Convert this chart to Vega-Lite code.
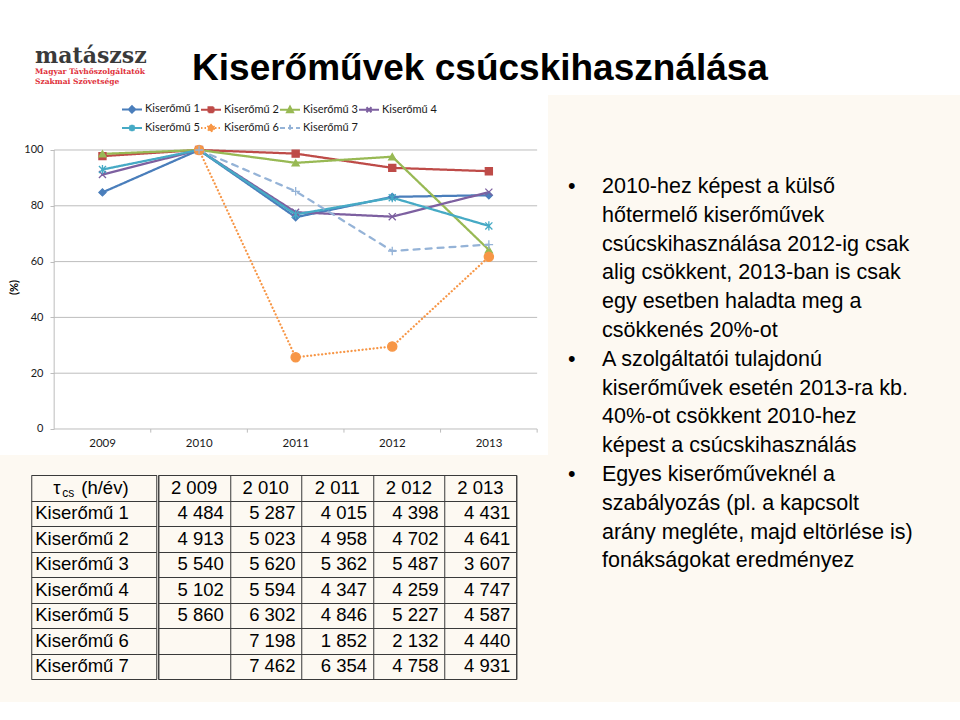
{
  "$schema": "https://vega.github.io/schema/vega-lite/v6.json",
  "background": "#FDF9F2",
  "padding": {"left": 0, "top": 0, "right": 0, "bottom": 22},
  "config": {
    "view": {"stroke": null},
    "concat": {"spacing": 0},
    "font": "Liberation Sans",
    "locale": {"number": {"decimal": ",", "thousands": " ", "grouping": [3], "currency": ["", ""]}}
  },
  "datasets": {
    "d": [
      {"unit": "Kiserőmű 1", "year": 2009, "h": 4484, "pct": 84.8},
      {"unit": "Kiserőmű 1", "year": 2010, "h": 5287, "pct": 100},
      {"unit": "Kiserőmű 1", "year": 2011, "h": 4015, "pct": 75.9},
      {"unit": "Kiserőmű 1", "year": 2012, "h": 4398, "pct": 83.2},
      {"unit": "Kiserőmű 1", "year": 2013, "h": 4431, "pct": 83.8},
      {"unit": "Kiserőmű 2", "year": 2009, "h": 4913, "pct": 97.8},
      {"unit": "Kiserőmű 2", "year": 2010, "h": 5023, "pct": 100},
      {"unit": "Kiserőmű 2", "year": 2011, "h": 4958, "pct": 98.7},
      {"unit": "Kiserőmű 2", "year": 2012, "h": 4702, "pct": 93.6},
      {"unit": "Kiserőmű 2", "year": 2013, "h": 4641, "pct": 92.4},
      {"unit": "Kiserőmű 3", "year": 2009, "h": 5540, "pct": 98.6},
      {"unit": "Kiserőmű 3", "year": 2010, "h": 5620, "pct": 100},
      {"unit": "Kiserőmű 3", "year": 2011, "h": 5362, "pct": 95.4},
      {"unit": "Kiserőmű 3", "year": 2012, "h": 5487, "pct": 97.6},
      {"unit": "Kiserőmű 3", "year": 2013, "h": 3607, "pct": 64.2},
      {"unit": "Kiserőmű 4", "year": 2009, "h": 5102, "pct": 91.2},
      {"unit": "Kiserőmű 4", "year": 2010, "h": 5594, "pct": 100},
      {"unit": "Kiserőmű 4", "year": 2011, "h": 4347, "pct": 77.7},
      {"unit": "Kiserőmű 4", "year": 2012, "h": 4259, "pct": 76.1},
      {"unit": "Kiserőmű 4", "year": 2013, "h": 4747, "pct": 84.9},
      {"unit": "Kiserőmű 5", "year": 2009, "h": 5860, "pct": 93.0},
      {"unit": "Kiserőmű 5", "year": 2010, "h": 6302, "pct": 100},
      {"unit": "Kiserőmű 5", "year": 2011, "h": 4846, "pct": 76.9},
      {"unit": "Kiserőmű 5", "year": 2012, "h": 5227, "pct": 82.9},
      {"unit": "Kiserőmű 5", "year": 2013, "h": 4587, "pct": 72.8},
      {"unit": "Kiserőmű 6", "year": 2010, "h": 7198, "pct": 100},
      {"unit": "Kiserőmű 6", "year": 2011, "h": 1852, "pct": 25.7},
      {"unit": "Kiserőmű 6", "year": 2012, "h": 2132, "pct": 29.6},
      {"unit": "Kiserőmű 6", "year": 2013, "h": 4440, "pct": 61.7},
      {"unit": "Kiserőmű 7", "year": 2010, "h": 7462, "pct": 100},
      {"unit": "Kiserőmű 7", "year": 2011, "h": 6354, "pct": 85.2},
      {"unit": "Kiserőmű 7", "year": 2012, "h": 4758, "pct": 63.8},
      {"unit": "Kiserőmű 7", "year": 2013, "h": 4931, "pct": 66.1}
    ],
    "years": [{"year": 2009}, {"year": 2010}, {"year": 2011}, {"year": 2012}, {"year": 2013}],
    "units": [{"unit": "Kiserőmű 1"}, {"unit": "Kiserőmű 2"}, {"unit": "Kiserőmű 3"}, {"unit": "Kiserőmű 4"}, {"unit": "Kiserőmű 5"}, {"unit": "Kiserőmű 6"}, {"unit": "Kiserőmű 7"}],
    "grid": [{"v": 0}, {"v": 20}, {"v": 40}, {"v": 60}, {"v": 80}, {"v": 100}],
    "lines": [
      {"i": 1, "b": "•", "t": "2010-hez képest a külső"},
      {"i": 2, "b": "", "t": "hőtermelő kiserőművek"},
      {"i": 3, "b": "", "t": "csúcskihasználása 2012-ig csak"},
      {"i": 4, "b": "", "t": "alig csökkent, 2013-ban is csak"},
      {"i": 5, "b": "", "t": "egy esetben haladta meg a"},
      {"i": 6, "b": "", "t": "csökkenés 20%-ot"},
      {"i": 7, "b": "•", "t": "A szolgáltatói tulajdonú"},
      {"i": 8, "b": "", "t": "kiserőművek esetén 2013-ra kb."},
      {"i": 9, "b": "", "t": "40%-ot csökkent 2010-hez"},
      {"i": 10, "b": "", "t": "képest a csúcskihasználás"},
      {"i": 11, "b": "•", "t": "Egyes kiserőműveknél a"},
      {"i": 12, "b": "", "t": "szabályozás (pl. a kapcsolt"},
      {"i": 13, "b": "", "t": "arány megléte, majd eltörlése is)"},
      {"i": 14, "b": "", "t": "fonákságokat eredményez"}
    ]
  },
  "vconcat": [
    {
      "hconcat": [
        {
          "width": 170, "height": 95,
          "view": {"fill": "white", "stroke": null},
          "data": {"values": []},
          "mark": "point",
          "title": {
            "text": "matászsz",
            "subtitle": ["Magyar Távhőszolgáltatók", "Szakmai Szövetsége"],
            "orient": "top", "anchor": "start", "offset": -86, "dx": 35,
            "font": "DejaVu Serif", "fontSize": 22, "fontWeight": "bold", "color": "#3A3A3A",
            "subtitleFont": "DejaVu Serif", "subtitleFontSize": 7.5, "subtitleFontWeight": "bold",
            "subtitleColor": "#E0313A", "subtitlePadding": 0, "subtitleLineHeight": 10
          }
        },
        {
          "width": 790, "height": 95,
          "view": {"fill": "white", "stroke": null},
          "data": {"values": []},
          "mark": "point",
          "title": {
            "text": "Kiserőművek csúcskihasználása",
            "orient": "top", "anchor": "middle", "offset": -88, "dx": -85,
            "font": "Liberation Sans", "fontSize": 37, "fontWeight": "bold", "color": "#000000"
          }
        }
      ]
    },
    {
      "hconcat": [
        {
          "spacing": 19,
          "center": true,
          "vconcat": [
            {
              "width": 548, "height": 360,
              "view": {"fill": "white", "stroke": null},
              "resolve": {"scale": {"shape": "independent", "fill": "independent", "stroke": "independent", "strokeDash": "independent"}},
              "layer": [
                {
                  "data": {"name": "grid"},
                  "mark": {"type": "rule", "color": "#BDBDBD", "strokeWidth": 1, "xOffset": -48.3, "x2Offset": 48.3},
                  "encoding": {
                    "x": {"datum": 2009, "type": "ordinal", "scale": {"type": "point", "padding": 0.8365, "align": 0.634}},
                    "x2": {"datum": 2013},
                    "y": {"field": "v", "type": "quantitative", "title": "(%)", "scale": {"domain": [-9.32, 119.71], "nice": false, "zero": false}}
                  }
                },
                {
                  "data": {"values": [{}]},
                  "mark": {"type": "rule", "color": "#BDBDBD", "strokeWidth": 1, "xOffset": -48.3},
                  "encoding": {
                    "x": {"datum": 2009, "type": "ordinal"},
                    "y": {"datum": 0, "type": "quantitative"},
                    "y2": {"datum": 100}
                  }
                },
                {
                  "data": {"name": "years"},
                  "mark": {"type": "rule", "color": "#BDBDBD", "strokeWidth": 1, "xOffset": 48.3},
                  "encoding": {
                    "x": {"field": "year", "type": "ordinal", "title": null},
                    "y": {"datum": 0, "type": "quantitative"},
                    "y2": {"datum": -1.3}
                  }
                },
                {
                  "data": {"name": "d"},
                  "mark": {"type": "line", "strokeWidth": 2.25, "strokeCap": "round", "strokeJoin": "round"},
                  "encoding": {
                    "x": {
                      "field": "year", "type": "ordinal", "title": null,
                      "scale": {"type": "point", "padding": 0.8365, "align": 0.634},
                      "axis": {"orient": "bottom", "offset": -26, "domain": false, "ticks": false, "grid": false, "labelAngle": 0, "labelPadding": 14, "labelOffset": 13, "labelFont": "Lato", "labelFontSize": 11.5, "labelColor": "#1A1A1A"}
                    },
                    "y": {
                      "field": "pct", "type": "quantitative", "title": "(%)",
                      "scale": {"domain": [-9.32, 119.71], "nice": false, "zero": false},
                      "axis": {"orient": "left", "offset": -54, "values": [0, 20, 40, 60, 80, 100], "domain": false, "grid": false, "ticks": true, "tickSize": 4, "tickColor": "#BDBDBD", "labelPadding": 7, "labelFont": "Lato", "labelFontSize": 11, "labelColor": "#1A1A1A", "titleFont": "Lato", "titleFontSize": 11, "titleFontWeight": "bold", "titleColor": "#000000", "titlePadding": 4, "titleY": 192}
                    },
                    "color": {
                      "field": "unit", "type": "nominal",
                      "scale": {"domain": ["Kiserőmű 1", "Kiserőmű 2", "Kiserőmű 3", "Kiserőmű 4", "Kiserőmű 5", "Kiserőmű 6", "Kiserőmű 7"], "range": ["#4A7EBB", "#BE4B48", "#98B954", "#7D60A0", "#46AAC5", "#F79646", "#95B3D7"]},
                      "legend": null
                    },
                    "strokeDash": {
                      "field": "unit", "type": "nominal",
                      "scale": {"domain": ["Kiserőmű 1", "Kiserőmű 2", "Kiserőmű 3", "Kiserőmű 4", "Kiserőmű 5", "Kiserőmű 6", "Kiserőmű 7"], "range": [[1, 0], [1, 0], [1, 0], [1, 0], [1, 0], [0.1, 3.6], [6, 6]]},
                      "legend": null
                    }
                  }
                },
                {
                  "data": {"name": "d"},
                  "mark": {"type": "point", "filled": true, "strokeWidth": 1.3, "opacity": 1},
                  "encoding": {
                    "x": {"field": "year", "type": "ordinal", "title": null},
                    "y": {"field": "pct", "type": "quantitative", "title": "(%)"},
                    "shape": {
                      "field": "unit", "type": "nominal",
                      "scale": {"domain": ["Kiserőmű 1", "Kiserőmű 2", "Kiserőmű 3", "Kiserőmű 4", "Kiserőmű 5", "Kiserőmű 6", "Kiserőmű 7"], "range": ["diamond", "square", "triangle-up", "M-1,-1L1,1M-1,1L1,-1", "M-1,-1L1,1M-1,1L1,-1M0,-1.3V1.3", "circle", "M-1.2,0H1.2M0,-1.2V1.2"]},
                      "legend": null
                    },
                    "fill": {
                      "field": "unit", "type": "nominal",
                      "scale": {"domain": ["Kiserőmű 1", "Kiserőmű 2", "Kiserőmű 3", "Kiserőmű 4", "Kiserőmű 5", "Kiserőmű 6", "Kiserőmű 7"], "range": ["#4A7EBB", "#BE4B48", "#98B954", "#7D60A0", "#46AAC5", "#F79646", "#95B3D7"]},
                      "legend": null
                    },
                    "stroke": {
                      "field": "unit", "type": "nominal",
                      "scale": {"domain": ["Kiserőmű 1", "Kiserőmű 2", "Kiserőmű 3", "Kiserőmű 4", "Kiserőmű 5", "Kiserőmű 6", "Kiserőmű 7"], "range": ["#4A7EBB", "#BE4B48", "#98B954", "#7D60A0", "#46AAC5", "#F79646", "#95B3D7"]},
                      "legend": null
                    },
                    "size": {"condition": {"test": "datum.unit === 'Kiserőmű 6'", "value": 85}, "value": 50}
                  }
                },
                {
                  "data": {"values": []},
                  "mark": {"type": "point", "filled": true},
                  "encoding": {
                    "shape": {
                      "field": "n", "type": "nominal",
                      "scale": {"domain": [1, 2, 3, 4, 5, 6, 7], "range": ["M-1,0H1M0,-0.32L0.32,0L0,0.32L-0.32,0Z", "M-1,0H1M-0.25,-0.25H0.25V0.25H-0.25Z", "M-1,0H1M0,-0.32L0.3,0.24H-0.3Z", "M-1,0H1M-0.25,-0.25L0.25,0.25M-0.25,0.25L0.25,-0.25", "M-1,0H1M-0.25,-0.25L0.25,0.25M-0.25,0.25L0.25,-0.25M0,-0.32V0.32", "M-1,0H1M0.32,0A0.32,0.32,0,1,1,-0.32,0A0.32,0.32,0,1,1,0.32,0Z", "M-1,0H1M0,-0.32V0.32"]},
                      "legend": {"orient": "none", "legendX": 121, "legendY": 3, "direction": "horizontal", "columns": 4, "title": null, "symbolSize": 400, "symbolStrokeWidth": 2, "symbolOpacity": 1, "labelFont": "Lato", "labelFontSize": 11, "labelColor": "#1A1A1A", "labelOffset": 2, "columnPadding": -5.5, "rowPadding": 0, "padding": 0, "labelExpr": "'Kiserőmű ' + datum.label"}
                    },
                    "fill": {
                      "field": "n", "type": "nominal",
                      "scale": {"domain": [1, 2, 3, 4, 5, 6, 7], "range": ["#4A7EBB", "#BE4B48", "#98B954", "#7D60A0", "#46AAC5", "#F79646", "#95B3D7"]},
                      "legend": {"orient": "none", "legendX": 121, "legendY": 3, "direction": "horizontal", "columns": 4, "title": null, "symbolSize": 400, "symbolStrokeWidth": 2, "symbolOpacity": 1, "labelFont": "Lato", "labelFontSize": 11, "labelColor": "#1A1A1A", "labelOffset": 2, "columnPadding": -5.5, "rowPadding": 0, "padding": 0, "labelExpr": "'Kiserőmű ' + datum.label"}
                    },
                    "stroke": {
                      "field": "n", "type": "nominal",
                      "scale": {"domain": [1, 2, 3, 4, 5, 6, 7], "range": ["#4A7EBB", "#BE4B48", "#98B954", "#7D60A0", "#46AAC5", "#F79646", "#95B3D7"]},
                      "legend": {"orient": "none", "legendX": 121, "legendY": 3, "direction": "horizontal", "columns": 4, "title": null, "symbolSize": 400, "symbolStrokeWidth": 2, "symbolOpacity": 1, "labelFont": "Lato", "labelFontSize": 11, "labelColor": "#1A1A1A", "labelOffset": 2, "columnPadding": -5.5, "rowPadding": 0, "padding": 0, "labelExpr": "'Kiserőmű ' + datum.label"}
                    },
                    "strokeDash": {
                      "field": "n", "type": "nominal",
                      "scale": {"domain": [1, 2, 3, 4, 5, 6, 7], "range": [[1, 0], [1, 0], [1, 0], [1, 0], [1, 0], [1.5, 2], [5, 3]]},
                      "legend": {"orient": "none", "legendX": 121, "legendY": 3, "direction": "horizontal", "columns": 4, "title": null, "symbolSize": 400, "symbolStrokeWidth": 2, "symbolOpacity": 1, "labelFont": "Lato", "labelFontSize": 11, "labelColor": "#1A1A1A", "labelOffset": 2, "columnPadding": -5.5, "rowPadding": 0, "padding": 0, "labelExpr": "'Kiserőmű ' + datum.label"}
                    }
                  }
                }
              ]
            },
            {
              "hconcat": [
                {
                  "width": 125, "height": 204,
                  "view": {"stroke": "#3A3A3A", "strokeWidth": 1},
                  "layer": [
                    {
                      "data": {"name": "units"},
                      "mark": {"type": "text", "align": "left", "baseline": "middle", "font": "Liberation Sans", "fontSize": 18.5, "color": "#000000"},
                      "encoding": {
                        "x": {"value": 4},
                        "y": {
                          "field": "unit", "type": "nominal",
                          "scale": {"type": "band", "domain": ["hdr", "Kiserőmű 1", "Kiserőmű 2", "Kiserőmű 3", "Kiserőmű 4", "Kiserőmű 5", "Kiserőmű 6", "Kiserőmű 7"], "paddingInner": 0, "paddingOuter": 0},
                          "axis": {"grid": true, "tickBand": "extent", "labels": false, "ticks": false, "domain": false, "title": null, "gridColor": "#3A3A3A", "gridOpacity": 1, "gridWidth": 1}
                        },
                        "text": {"field": "unit"}
                      }
                    },
                    {
                      "data": {"values": [{"t": "τ"}]},
                      "mark": {"type": "text", "align": "left", "baseline": "middle", "font": "Liberation Sans", "fontSize": 18.5, "color": "#000000"},
                      "encoding": {"x": {"value": 22}, "y": {"datum": "hdr", "type": "nominal"}, "text": {"field": "t"}}
                    },
                    {
                      "data": {"values": [{"t": "cs"}]},
                      "mark": {"type": "text", "align": "left", "baseline": "middle", "font": "Liberation Sans", "fontSize": 12, "dy": 5, "color": "#000000"},
                      "encoding": {"x": {"value": 31}, "y": {"datum": "hdr", "type": "nominal"}, "text": {"field": "t"}}
                    },
                    {
                      "data": {"values": [{"t": "(h/év)"}]},
                      "mark": {"type": "text", "align": "left", "baseline": "middle", "font": "Liberation Sans", "fontSize": 18.5, "color": "#000000"},
                      "encoding": {"x": {"value": 50}, "y": {"datum": "hdr", "type": "nominal"}, "text": {"field": "t"}}
                    }
                  ]
                },
                {
                  "width": 358, "height": 204,
                  "view": {"stroke": "#3A3A3A", "strokeWidth": 1},
                  "layer": [
                    {
                      "data": {"name": "d"},
                      "mark": {"type": "text", "align": "right", "baseline": "middle", "font": "Liberation Sans", "fontSize": 18.5, "color": "#000000", "dx": -6},
                      "encoding": {
                        "x": {
                          "field": "year", "type": "ordinal", "bandPosition": 1,
                          "scale": {"type": "band", "domain": [2009, 2010, 2011, 2012, 2013], "paddingInner": 0, "paddingOuter": 0},
                          "axis": {"grid": true, "tickBand": "extent", "labels": false, "ticks": false, "domain": false, "title": null, "gridColor": "#3A3A3A", "gridOpacity": 1, "gridWidth": 1}
                        },
                        "y": {
                          "field": "unit", "type": "nominal",
                          "scale": {"type": "band", "domain": ["hdr", "Kiserőmű 1", "Kiserőmű 2", "Kiserőmű 3", "Kiserőmű 4", "Kiserőmű 5", "Kiserőmű 6", "Kiserőmű 7"], "paddingInner": 0, "paddingOuter": 0},
                          "axis": {"grid": true, "tickBand": "extent", "labels": false, "ticks": false, "domain": false, "title": null, "gridColor": "#3A3A3A", "gridOpacity": 1, "gridWidth": 1}
                        },
                        "text": {"field": "h", "type": "quantitative", "format": ",d"}
                      }
                    },
                    {
                      "data": {"name": "years"},
                      "mark": {"type": "text", "align": "center", "baseline": "middle", "font": "Liberation Sans", "fontSize": 18.5, "color": "#000000"},
                      "encoding": {
                        "x": {"field": "year", "type": "ordinal", "bandPosition": 0.5},
                        "y": {"datum": "hdr", "type": "nominal"},
                        "text": {"field": "year", "type": "quantitative", "format": ",d"}
                      }
                    }
                  ]
                }
              ]
            }
          ]
        },
        {
          "width": 412, "height": 558,
          "data": {"name": "lines"},
          "layer": [
            {
              "mark": {"type": "text", "align": "left", "baseline": "middle", "font": "Liberation Sans", "fontSize": 21.5, "color": "#000000"},
              "encoding": {
                "x": {"value": 54},
                "y": {"field": "i", "type": "quantitative", "scale": {"domain": [-2.194, 17.181], "reverse": true, "nice": false, "zero": false}, "axis": null},
                "text": {"field": "t"}
              }
            },
            {
              "mark": {"type": "text", "align": "left", "baseline": "middle", "font": "Liberation Sans", "fontSize": 21.5, "color": "#000000"},
              "encoding": {
                "x": {"value": 20},
                "y": {"field": "i", "type": "quantitative", "axis": null},
                "text": {"field": "b"}
              }
            }
          ]
        }
      ]
    }
  ]
}
